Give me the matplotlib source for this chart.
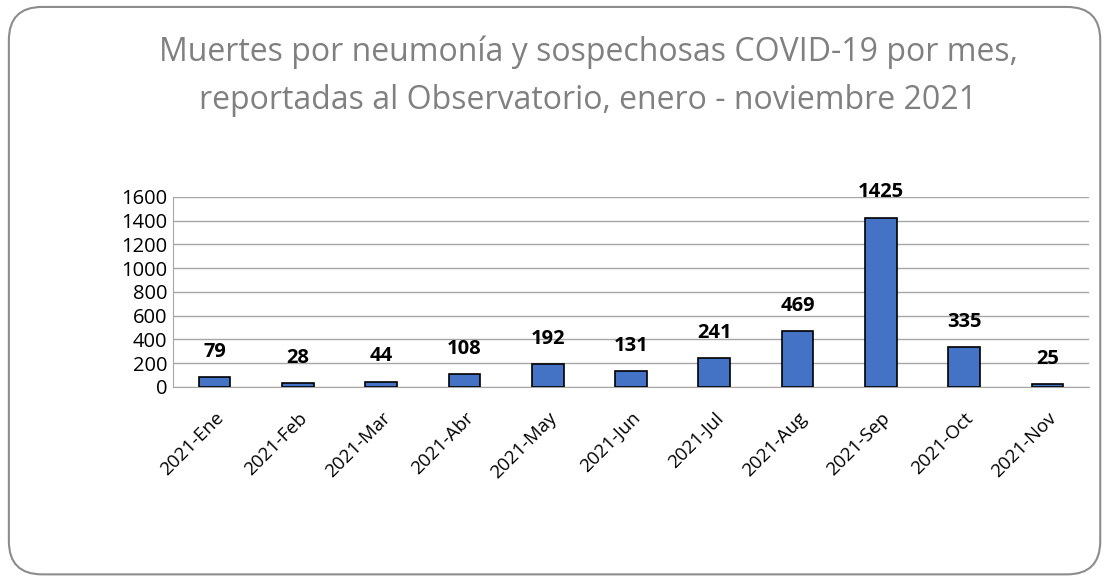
import matplotlib.pyplot as plt
from matplotlib.patches import FancyBboxPatch

months = ['2021-Ene', '2021-Feb', '2021-Mar', '2021-Abr', '2021-May', '2021-Jun',
          '2021-Jul', '2021-Aug', '2021-Sep', '2021-Oct', '2021-Nov']
deaths = [79, 28, 44, 108, 192, 131, 241, 469, 1425, 335, 25]
yticks = [0, 200, 400, 600, 800, 1000, 1200, 1400, 1600]

plt.rcParams['font.family'] = ['Open Sans', 'DejaVu Sans']

fig = plt.figure(figsize=(11.08, 5.79), dpi=100)

# rounded frame around the whole chart, kept under the axes
frame = FancyBboxPatch((0.008, 0.008), 0.985, 0.98, boxstyle="round,pad=0,rounding_size=0.03",
                       transform=fig.transFigure, fc='white', ec='#8c8c8c', lw=1.5,
                       mutation_aspect=1108/579, zorder=-5)
fig.patches.append(frame)

ax = fig.add_axes([0.156, 0.332, 0.827, 0.328])
ax.set_zorder(2)
x = range(len(months))
ax.bar(x, deaths, width=0.38, color='#4472C4', edgecolor='black', linewidth=1.2, zorder=3)

for i, v in enumerate(deaths):
    ax.annotate(str(v), (i, v), xytext=(0, 11), textcoords='offset points',
                ha='center', va='bottom', fontsize=14.5, fontweight='bold')

ax.set_ylim(0, 1600)
ax.set_xlim(-0.5, len(months) - 0.5)
ax.set_yticks(yticks)
ax.set_yticklabels([str(t) for t in yticks], fontsize=14.5)
ax.set_xticks(list(x))
ax.set_xticklabels(months, rotation=45, ha='right', rotation_mode='anchor', fontsize=13.5)
ax.tick_params(length=0, pad=4)
ax.tick_params(axis='x', pad=16)
ax.yaxis.grid(True, color='#a6a6a6', lw=1, zorder=0)
ax.set_axisbelow(True)
for s in ['top', 'right']:
    ax.spines[s].set_visible(False)
ax.spines['left'].set_color('#a6a6a6')
ax.spines['bottom'].set_color('#a6a6a6')

fig.text(0.531, 0.91, 'Muertes por neumonía y sospechosas COVID-19 por mes,',
         ha='center', va='center', fontsize=23, color='#808080')
fig.text(0.531, 0.826, 'reportadas al Observatorio, enero - noviembre 2021',
         ha='center', va='center', fontsize=23, color='#808080')

fig.savefig('out.png', dpi=100)
